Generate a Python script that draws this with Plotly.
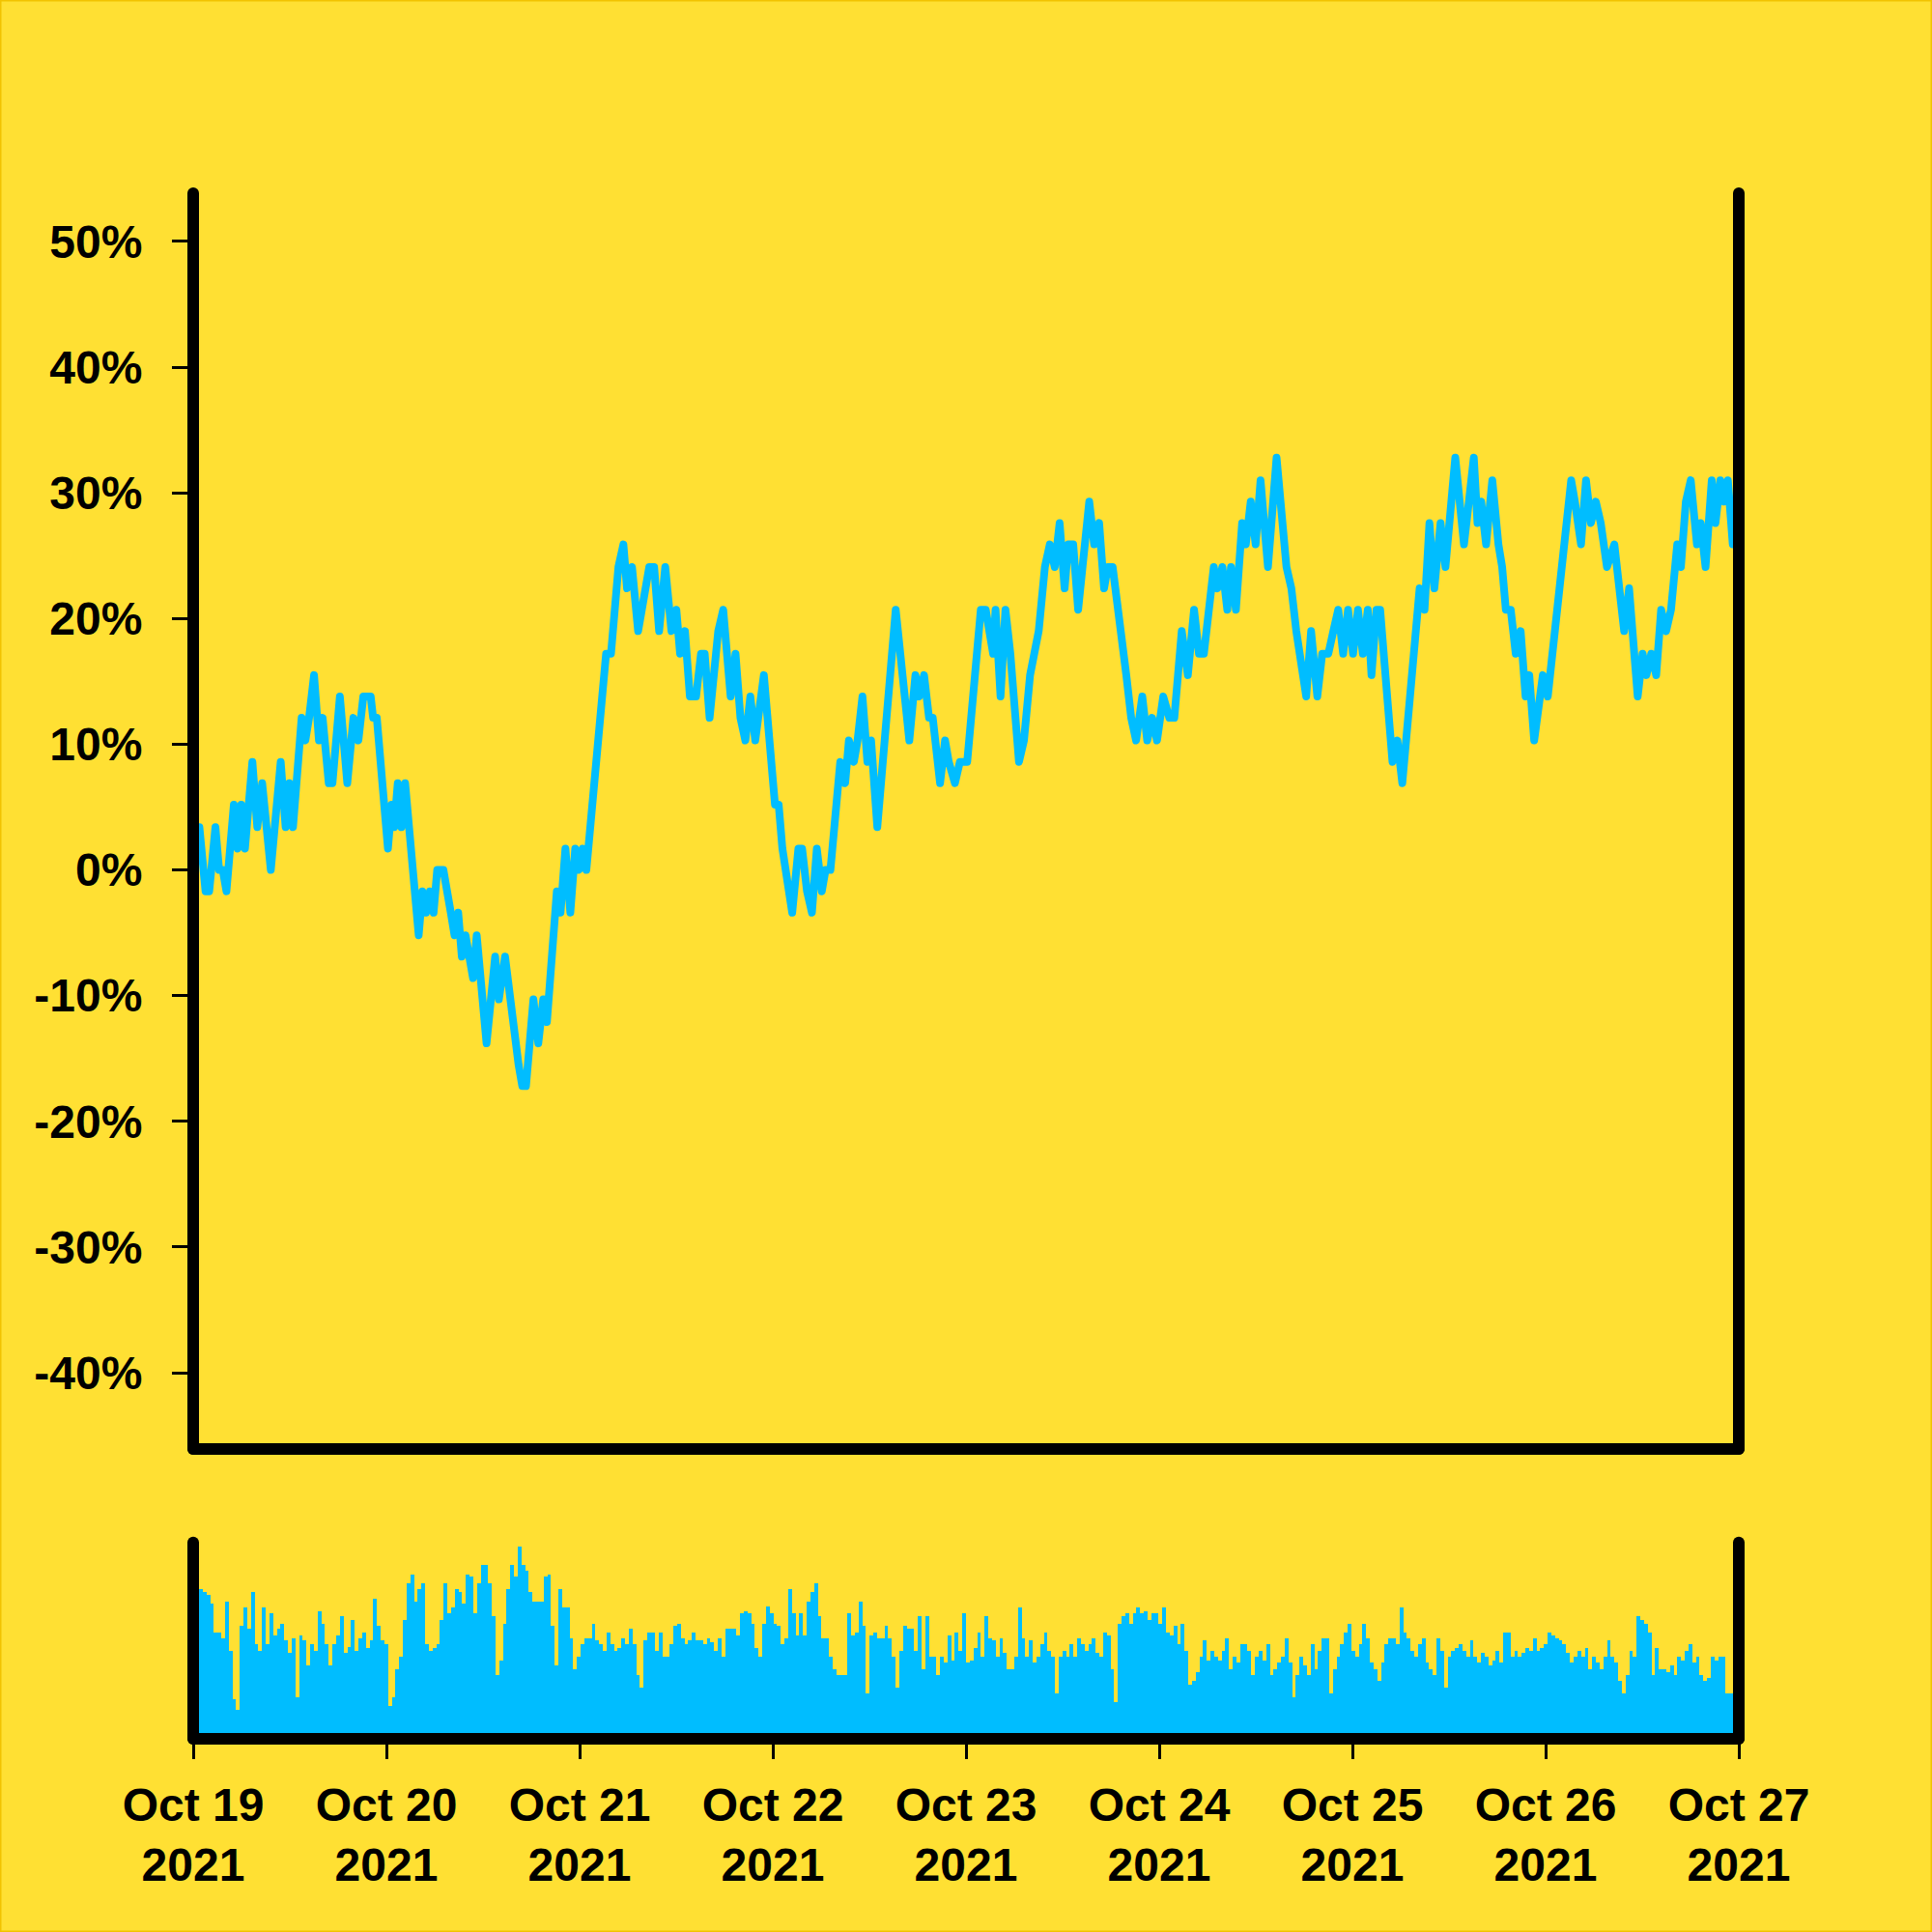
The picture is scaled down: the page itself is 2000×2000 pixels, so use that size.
import pandas as pd
import plotly.graph_objects as go

# ---------------- data ----------------
start_date = "2021-10-19"
end_date = "2021-10-27"

# change vs. start (%), sampled at the turning points of the price path
hours = [0.77, 1.53, 1.99, 2.76, 3.22, 3.67, 4.13, 5.05, 5.51, 5.97, 6.43, 7.35, 7.96, 8.57, 9.64,
         10.87, 11.48, 11.94, 12.40, 13.47, 13.93, 14.39, 15.01, 15.62, 16.08, 16.84, 17.30, 18.22,
         19.14, 19.90, 20.52, 21.13, 22.05, 22.35, 22.81, 24.19, 24.65, 24.96, 25.41, 25.87, 26.33,
         28.01, 28.47, 28.94, 29.40, 29.86, 30.31, 31.08, 32.00, 32.46, 32.92, 33.37, 33.83, 34.30,
         34.76, 35.22, 36.44, 37.51, 37.97, 38.74, 39.96, 40.42, 40.88, 41.34, 42.26, 42.87, 43.48,
         43.94, 45.17, 45.63, 46.24, 46.85, 47.46, 47.92, 48.38, 48.84, 51.29, 51.90, 52.82, 53.44,
         53.89, 54.51, 55.27, 56.04, 56.65, 57.26, 57.88, 58.64, 59.41, 60.02, 60.48, 61.09, 61.70,
         62.47, 63.08, 63.54, 64.15, 65.22, 65.84, 66.76, 67.37, 67.98, 68.59, 69.21, 69.82, 70.89,
         72.27, 72.73, 73.19, 74.41, 75.18, 75.64, 76.25, 76.86, 77.47, 78.09, 78.55, 79.16, 80.38,
         80.99, 81.45, 82.07, 82.53, 83.14, 83.75, 84.21, 84.98, 87.27, 88.96, 89.72, 90.18, 90.79,
         91.41, 91.87, 92.78, 93.40, 93.86, 94.62, 95.24, 96.15, 97.84, 98.45, 99.37, 99.67, 100.29,
         100.90, 101.51, 102.58, 103.20, 103.96, 105.03, 105.80, 106.41, 107.02, 107.63, 108.25,
         108.71, 109.32, 109.93, 111.31, 111.92, 112.54, 113.15, 113.61, 114.22, 115.91, 116.52,
         117.13, 117.90, 118.51, 119.12, 119.73, 120.50, 121.26, 121.88, 122.80, 123.56, 124.33,
         124.94, 125.55, 126.32, 126.78, 127.23, 127.85, 128.46, 128.92, 129.53, 130.30, 130.76,
         131.37, 131.98, 132.59, 133.51, 134.58, 135.81, 136.42, 137.03, 138.26, 138.87, 139.64,
         140.25, 141.01, 141.63, 142.24, 142.85, 143.46, 144.08, 144.69, 145.30, 145.91, 146.37,
         146.99, 147.45, 148.98, 149.59, 150.20, 152.35, 152.96, 153.57, 154.18, 154.95, 155.56,
         156.78, 157.86, 158.47, 159.08, 159.54, 160.00, 160.61, 161.38, 162.14, 162.60, 163.06,
         163.67, 164.29, 164.90, 165.51, 165.97, 166.58, 167.20, 167.66, 168.27, 168.88, 170.41,
         171.18, 171.64, 172.40, 173.02, 173.63, 174.24, 174.85, 175.62, 176.54, 177.76, 178.37,
         179.44, 180.05, 180.52, 181.13, 181.74, 182.35, 182.97, 183.58, 184.35, 184.81, 185.42,
         186.03, 186.80, 187.26, 187.87, 188.64, 189.10, 189.71, 190.18, 190.64, 191.25]

change_pct = [3.4, -1.7, -1.7, 3.4, 0.0, 0.0, -1.7, 5.2, 1.7, 5.2, 1.7, 8.6, 3.4, 6.9, 0.0,
              8.6, 3.4, 6.9, 3.4, 12.1, 10.3, 12.1, 15.5, 10.3, 12.1, 6.9, 6.9, 13.8,
              6.9, 12.1, 10.3, 13.8, 13.8, 12.1, 12.1, 1.7, 5.2, 3.4, 6.9, 3.4, 6.9,
              -5.2, -1.7, -3.4, -1.7, -3.4, 0.0, 0.0, -3.4, -5.2, -3.4, -6.9, -5.2, -6.9,
              -8.6, -5.2, -13.8, -6.9, -10.3, -6.9, -13.8, -15.5, -17.2, -17.2, -10.3, -13.8, -10.3,
              -12.1, -1.7, -3.4, 1.7, -3.4, 1.7, 0.0, 1.7, 0.0, 17.2, 17.2, 24.1, 25.9,
              22.4, 24.1, 19.0, 22.4, 24.1, 24.1, 19.0, 24.1, 19.0, 20.7, 17.2, 19.0, 13.8,
              13.8, 17.2, 17.2, 12.1, 19.0, 20.7, 13.8, 17.2, 12.1, 10.3, 13.8, 10.3, 15.5,
              5.2, 5.2, 1.7, -3.4, 1.7, 1.7, -1.7, -3.4, 1.7, -1.7, 0.0, 0.0, 8.6,
              6.9, 10.3, 8.6, 10.3, 13.8, 8.6, 10.3, 3.4, 20.7, 10.3, 15.5, 13.8, 15.5,
              12.1, 12.1, 6.9, 10.3, 8.6, 6.9, 8.6, 8.6, 20.7, 20.7, 17.2, 20.7, 13.8,
              20.7, 17.2, 8.6, 10.3, 15.5, 19.0, 24.1, 25.9, 24.1, 27.6, 22.4,
              25.9, 25.9, 20.7, 29.3, 25.9, 27.6, 22.4, 24.1, 24.1, 15.5, 12.1,
              10.3, 13.8, 10.3, 12.1, 10.3, 13.8, 12.1, 12.1, 19.0, 15.5, 20.7,
              17.2, 17.2, 22.4, 24.1, 22.4, 24.1, 20.7, 24.1, 20.7, 27.6, 25.9,
              29.3, 25.9, 31.0, 24.1, 32.8, 24.1, 22.4, 19.0, 13.8, 19.0, 13.8,
              17.2, 17.2, 19.0, 20.7, 17.2, 20.7, 17.2, 20.7, 17.2, 20.7, 15.5,
              20.7, 20.7, 8.6, 10.3, 6.9, 22.4, 20.7, 27.6, 22.4, 27.6, 24.1,
              32.8, 25.9, 29.3, 32.8, 27.6, 29.3, 25.9, 31.0, 25.9, 24.1, 20.7,
              20.7, 17.2, 19.0, 13.8, 15.5, 10.3, 13.8, 15.5, 13.8, 17.2, 25.9,
              31.0, 29.3, 25.9, 31.0, 27.6, 29.3, 27.6, 24.1, 25.9, 19.0, 22.4,
              13.8, 17.2, 15.5, 17.2, 15.5, 20.7, 19.0, 20.7, 25.9, 24.1, 29.3,
              31.0, 25.9, 27.6, 24.1, 31.0, 27.6, 31.0, 29.3, 31.0, 25.9]

# traded volume per interval (relative units)
volume = [96, 122, 120, 117, 110, 87, 87, 82, 112, 72, 32, 24, 92, 107, 90, 120, 77, 72, 107, 77,
          102, 84, 90, 94, 80, 70, 82, 34, 84, 80, 60, 77, 72, 104, 94, 77, 60, 77, 84, 100,
          70, 75, 97, 72, 82, 87, 74, 80, 114, 92, 80, 77, 27, 34, 57, 67, 97, 127, 134, 112,
          122, 127, 77, 72, 74, 77, 97, 127, 102, 107, 122, 120, 110, 134, 132, 102, 127, 142, 142, 127,
          100, 52, 64, 94, 122, 142, 132, 157, 142, 137, 120, 112, 112, 112, 132, 134, 92, 60, 122, 107,
          107, 82, 57, 67, 77, 82, 82, 94, 80, 77, 72, 87, 77, 72, 74, 82, 77, 90, 77, 52,
          42, 80, 87, 87, 72, 87, 67, 67, 77, 92, 94, 82, 77, 80, 87, 80, 80, 77, 82, 79,
          72, 82, 67, 90, 90, 90, 84, 102, 104, 102, 94, 74, 67, 94, 108, 102, 94, 92, 77, 82,
          122, 102, 84, 102, 84, 112, 120, 127, 100, 82, 82, 67, 57, 52, 52, 52, 102, 84, 87, 112,
          92, 37, 84, 87, 82, 82, 92, 82, 67, 42, 72, 92, 90, 90, 72, 100, 57, 100, 67, 67,
          52, 67, 62, 84, 64, 87, 72, 102, 62, 64, 74, 87, 67, 100, 82, 80, 67, 82, 70, 57,
          57, 67, 107, 82, 67, 80, 62, 67, 77, 87, 72, 67, 37, 67, 72, 67, 77, 67, 82, 77,
          72, 77, 82, 70, 67, 87, 84, 57, 30, 94, 100, 102, 94, 102, 107, 102, 104, 97, 102, 102,
          94, 107, 87, 84, 92, 77, 94, 72, 44, 47, 54, 67, 80, 64, 72, 67, 64, 72, 82, 57,
          67, 62, 77, 77, 72, 52, 67, 72, 64, 77, 52, 57, 62, 67, 82, 62, 34, 52, 67, 60,
          52, 77, 57, 72, 82, 82, 37, 57, 67, 77, 87, 94, 72, 67, 77, 94, 82, 62, 57, 47,
          62, 77, 82, 82, 77, 107, 87, 82, 72, 67, 77, 82, 62, 57, 52, 82, 72, 42, 67, 72,
          74, 77, 72, 67, 80, 67, 62, 70, 67, 60, 64, 72, 62, 87, 87, 67, 72, 67, 70, 74,
          72, 82, 72, 74, 77, 87, 84, 82, 80, 77, 70, 62, 67, 72, 67, 74, 57, 67, 62, 57,
          67, 80, 67, 62, 47, 37, 52, 72, 67, 100, 97, 94, 87, 52, 74, 57, 57, 54, 60, 52,
          67, 64, 72, 77, 62, 67, 52, 47, 50, 67, 64, 67, 67, 37, 37, 40]

y_tickvals = [-40, -30, -20, -10, 0, 10, 20, 30, 40, 50]
y_ticktext = ["-40%", "-30%", "-20%", "-10%", "0%", "10%", "20%", "30%", "40%", "50%"]
x_tickvals = ["2021-10-19", "2021-10-20", "2021-10-21", "2021-10-22", "2021-10-23",
              "2021-10-24", "2021-10-25", "2021-10-26", "2021-10-27"]
x_ticktext = ["Oct 19<br>2021", "Oct 20<br>2021", "Oct 21<br>2021", "Oct 22<br>2021",
              "Oct 23<br>2021", "Oct 24<br>2021", "Oct 25<br>2021", "Oct 26<br>2021",
              "Oct 27<br>2021"]

# ---------------- styling ----------------
BG = "#FFE033"
BLUE = "#00BDFF"
FONT = dict(family="Liberation Sans, Arial, sans-serif", size=48, color="black", weight="bold")
MAIN_DOMAIN = [0.1875, 1.0]
VOL_DOMAIN = [0.0, 0.127]
FRAME_W = 12

line_x = pd.to_datetime(start_date) + pd.to_timedelta(hours, unit="h")
bar_x = pd.date_range(pd.Timestamp(start_date) + pd.Timedelta(minutes=30),
                      pd.Timestamp(end_date) - pd.Timedelta(minutes=30), periods=len(volume))

fig = go.Figure()
fig.add_trace(go.Bar(x=bar_x, y=volume, marker=dict(color=BLUE, line=dict(width=0)),
                     xaxis="x2", yaxis="y2", showlegend=False, hoverinfo="skip"))
fig.add_trace(go.Scatter(x=line_x, y=change_pct, mode="lines",
                         line=dict(color=BLUE, width=8), xaxis="x", yaxis="y",
                         hoverinfo="skip", showlegend=False))

axis_common = dict(showgrid=False, zeroline=False, showline=False)


def frame_line(x0, y0, x1, y1):
    return dict(type="line", xref="paper", yref="paper", x0=x0, y0=y0, x1=x1, y1=y1,
                line=dict(color="black", width=FRAME_W), layer="above")


shapes = [
    # main panel: left, right, bottom
    frame_line(0, MAIN_DOMAIN[0], 0, MAIN_DOMAIN[1]),
    frame_line(1, MAIN_DOMAIN[0], 1, MAIN_DOMAIN[1]),
    frame_line(0, MAIN_DOMAIN[0], 1, MAIN_DOMAIN[0]),
    # volume panel: left, right, bottom
    frame_line(0, VOL_DOMAIN[0], 0, VOL_DOMAIN[1]),
    frame_line(1, VOL_DOMAIN[0], 1, VOL_DOMAIN[1]),
    frame_line(0, VOL_DOMAIN[0], 1, VOL_DOMAIN[0]),
    # thin page border
    dict(type="rect", xref="paper", yref="paper", x0=-0.125, x1=1.125, y0=-0.125, y1=1.125,
         line=dict(color="#F2C300", width=3), fillcolor="rgba(0,0,0,0)", layer="below"),
]

fig.update_layout(
    width=2000, height=2000,
    paper_bgcolor=BG, plot_bgcolor=BG,
    margin=dict(l=200, r=200, t=200, b=200),
    bargap=0,
    font=FONT,
    hovermode=False,
    xaxis=dict(**axis_common, domain=[0, 1], anchor="y", range=[start_date, end_date],
               showticklabels=False, ticks=""),
    yaxis=dict(**axis_common, domain=MAIN_DOMAIN, anchor="x", range=[-46.07, 53.84],
               tickvals=y_tickvals, ticktext=y_ticktext, ticks="outside", ticklen=21,
               tickwidth=3, tickcolor="black", tickfont=FONT, ticklabelstandoff=21),
    xaxis2=dict(**axis_common, domain=[0, 1], anchor="y2", range=[start_date, end_date],
                tickvals=x_tickvals, ticktext=x_ticktext, ticks="outside", ticklen=20,
                tickwidth=3, tickcolor="black", tickfont=FONT, ticklabelstandoff=6),
    yaxis2=dict(**axis_common, domain=VOL_DOMAIN, anchor="x2", range=[0, 160],
                showticklabels=False, ticks=""),
    shapes=shapes,
)

post = """
document.body.style.margin = '0';
document.documentElement.style.margin = '0';
var gd = document.getElementById('{plot_id}');
function roundify() {
  gd.querySelectorAll('.js-line').forEach(function (p) {
    p.style.strokeLinejoin = 'round'; p.style.strokeLinecap = 'round';
  });
  gd.querySelectorAll('.shapelayer path').forEach(function (p) {
    p.style.strokeLinecap = 'round';
  });
}
roundify();
gd.on('plotly_afterplot', roundify);
"""

fig.write_html("out.html", post_script=post,
               config={"displayModeBar": False, "staticPlot": True})
